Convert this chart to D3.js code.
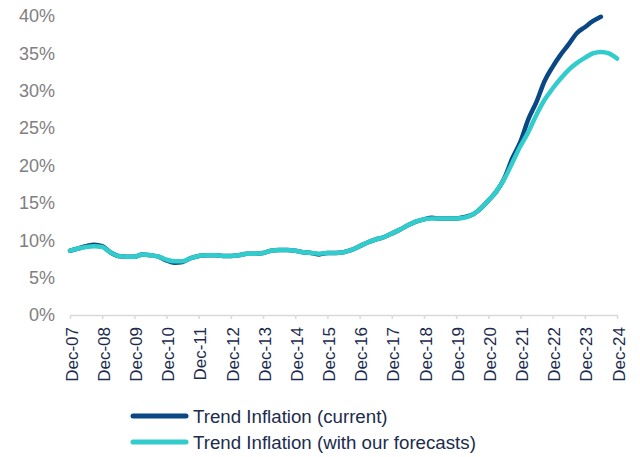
<!DOCTYPE html>
<html>
<head>
<meta charset="utf-8">
<script src="https://cdn.jsdelivr.net/npm/d3@7"></script>
<style>
  html, body { margin: 0; padding: 0; background: #fff; }
  svg { display: block; font-family: "Liberation Sans", Arial, sans-serif; }
</style>
</head>
<body>
<svg id="chart" width="640" height="457"></svg>
<script>
// Quarterly observations starting Dec-2007 (index 0 = Dec-07)
const startDate = new Date(2007, 11, 1);
const current = [8.6, 8.9, 9.2, 9.4, 9.2, 8.4, 7.9, 7.8, 7.8, 8.1,
  8.0, 7.8, 7.3, 7.0, 7.1, 7.6, 7.9, 8.0, 8.0, 7.9,
  7.9, 8.0, 8.2, 8.2, 8.3, 8.6, 8.7, 8.7, 8.6, 8.4,
  8.3, 8.1, 8.3, 8.3, 8.4, 8.7, 9.2, 9.7, 10.1, 10.4,
  10.9, 11.4, 12.0, 12.5, 12.8, 13.0, 12.9, 12.9, 12.9, 13.1,
  13.4, 14.2, 15.3, 16.5, 18.3, 21.0, 23.2, 26.2, 28.5, 31.3,
  33.2, 34.8, 36.2, 37.7, 38.5, 39.3, 39.9];
const forecast = [8.6, 8.9, 9.1, 9.2, 9.1, 8.4, 7.9, 7.8, 7.8, 8.1,
  8.0, 7.8, 7.4, 7.2, 7.2, 7.6, 7.9, 8.0, 8.0, 7.9,
  7.9, 8.0, 8.2, 8.2, 8.3, 8.6, 8.7, 8.7, 8.6, 8.4,
  8.3, 8.2, 8.3, 8.3, 8.4, 8.7, 9.2, 9.7, 10.1, 10.4,
  10.9, 11.4, 12.0, 12.5, 12.8, 12.9, 12.9, 12.9, 12.9, 13.0,
  13.4, 14.2, 15.3, 16.5, 18.2, 20.4, 22.6, 24.5, 26.8, 28.8,
  30.3, 31.6, 32.8, 33.7, 34.4, 35.0, 35.2, 35.0, 34.3];
const tickYears = d3.range(2007, 2025);
const yTicks = [0, 5, 10, 15, 20, 25, 30, 35, 40];
const seriesNames = ["Trend Inflation (current)", "Trend Inflation (with our forecasts)"];
const colors = ["#0b4785", "#33cccc"];

const svg = d3.select("#chart");
const x = d3.scaleTime()
  .domain([new Date(2007, 11, 1), new Date(2024, 11, 1)])
  .range([70, 617]);
const y = d3.scaleLinear().domain([0, 40]).range([315, 16]);

const toPoints = arr => arr.map((v, i) => ({date: d3.timeMonth.offset(startDate, 3 * i), v}));

// Y axis labels
const yAxis = d3.axisLeft(y).tickValues(yTicks).tickFormat(d => d + "%").tickSize(0).tickPadding(0);
const yg = svg.append("g").attr("transform", "translate(55,0)").call(yAxis);
yg.select(".domain").remove();
yg.selectAll("text").attr("fill", "#808080").style("font-size", "18px")
  .style("font-family", "Liberation Sans, Arial, sans-serif");

// X axis
const xAxis = d3.axisBottom(x)
  .tickValues(tickYears.map(yr => new Date(yr, 11, 1)))
  .tickFormat(d3.timeFormat("Dec-%y"))
  .tickSize(4).tickSizeOuter(0);
const xg = svg.append("g").attr("transform", "translate(0,315)").call(xAxis);
xg.select(".domain").attr("stroke", "#d9d9d9").attr("stroke-width", 1.5);
xg.selectAll(".tick line").attr("stroke", "#d9d9d9").attr("stroke-width", 1.5);
xg.selectAll("text")
  .attr("fill", "#1b2c4e")
  .style("font-size", "17px")
  .style("font-family", "Liberation Sans, Arial, sans-serif")
  .attr("text-anchor", "end")
  .attr("transform", "translate(1,12) rotate(-90)")
  .attr("x", 0).attr("y", 0).attr("dy", "0.36em");

// Lines
const line = d3.line().x(d => x(d.date)).y(d => y(d.v)).curve(d3.curveMonotoneX);
[current, forecast].forEach((arr, k) => {
  svg.append("path")
    .datum(toPoints(arr))
    .attr("fill", "none")
    .attr("stroke", colors[k])
    .attr("stroke-width", 4.5)
    .attr("stroke-linejoin", "round")
    .attr("stroke-linecap", "round")
    .attr("d", line);
});

// Legend
const legend = svg.append("g");
seriesNames.forEach((name, k) => {
  const ly = 416 + k * 26;
  legend.append("line")
    .attr("x1", 133).attr("x2", 186).attr("y1", ly).attr("y2", ly)
    .attr("stroke", colors[k]).attr("stroke-width", 5).attr("stroke-linecap", "round");
  legend.append("text")
    .attr("x", 193).attr("y", ly).attr("dy", "0.35em")
    .attr("fill", "#1b2c4e").style("font-size", "18.7px")
    .text(name);
});
</script>
</body>
</html>
